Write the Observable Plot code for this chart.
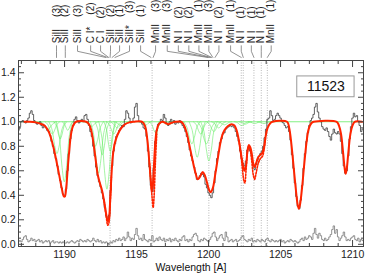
<!DOCTYPE html>
<html><head><meta charset="utf-8">
<script src="https://cdn.jsdelivr.net/npm/d3@7"></script>
<script src="https://cdn.jsdelivr.net/npm/@observablehq/plot@0.6"></script>
<style>body{margin:0;background:#fff}</style>
</head><body><div id="chart"></div>
<script>
// ---- data ----
const waveStart = 1186.8, waveStep = 0.1;
const fluxObs = [
0.93,0.96,1.00,1.01,1.00,0.99,1.01,1.03,1.07,1.09,
1.06,1.01,0.99,0.98,0.99,1.00,0.97,0.95,0.97,0.95,
0.93,0.92,0.89,0.84,0.80,0.74,0.70,0.64,0.57,0.52,
0.46,0.41,0.39,0.45,0.60,0.74,0.86,0.93,0.97,1.02,
1.04,1.01,0.99,1.00,1.02,1.00,1.05,1.06,1.02,0.97,
0.92,0.88,0.80,0.72,0.63,0.56,0.51,0.47,0.42,0.37,
0.30,0.23,0.19,0.24,0.44,0.64,0.76,0.82,0.88,0.90,
0.93,0.95,0.97,0.96,1.02,1.09,1.07,1.03,0.99,1.00,
1.03,1.12,1.15,1.05,1.00,1.00,0.98,0.95,0.94,0.88,
0.76,0.63,0.48,0.43,0.62,0.84,0.93,0.98,0.99,1.02,
1.01,1.06,1.03,0.99,0.97,1.00,1.02,0.99,1.01,0.98,
1.00,0.99,1.01,0.99,0.97,0.95,0.92,0.88,0.83,0.77,
0.72,0.68,0.63,0.58,0.53,0.54,0.56,0.58,0.57,0.55,
0.49,0.46,0.42,0.40,0.38,0.42,0.50,0.60,0.70,0.76,
0.83,0.86,0.90,0.91,0.94,0.95,0.96,0.97,0.96,0.97,
0.95,0.92,0.88,0.84,0.76,0.70,0.66,0.64,0.68,0.77,
0.80,0.76,0.72,0.64,0.61,0.65,0.69,0.72,0.74,0.76,
0.80,0.87,0.94,1.02,1.03,1.09,1.05,1.01,1.02,1.05,
1.07,1.05,1.03,1.00,0.99,0.97,0.95,0.96,0.92,0.85,
0.73,0.62,0.50,0.39,0.31,0.29,0.36,0.48,0.62,0.74,
0.84,0.91,0.97,1.01,1.03,1.06,1.12,1.15,1.08,1.03,
1.00,0.96,0.94,0.93,0.95,0.92,0.88,0.85,0.90,0.94,
0.91,0.90,0.92,0.90,0.84,0.74,0.64,0.58,0.60,0.72,
0.86,0.96,1.03,1.07,1.04,1.05,1.00,0.97,0.92,0.94];
const fluxErr = [
0.02,0.03,0.02,0.04,0.06,0.07,0.04,0.02,0.03,0.05,
0.03,0.04,0.02,0.03,0.04,0.02,0.03,0.01,0.02,0.03,
0.02,0.03,0.01,0.02,0.03,0.01,0.02,0.02,0.01,0.02,
0.01,0.02,0.01,0.01,0.02,0.01,0.02,0.03,0.02,0.01,
0.02,0.03,0.02,0.04,0.03,0.02,0.03,0.02,0.04,0.03,
0.02,0.03,0.05,0.03,0.02,0.04,0.02,0.03,0.01,0.02,
0.01,0.02,0.01,0.00,0.02,0.01,0.03,0.02,0.04,0.03,
0.05,0.03,0.04,0.06,0.03,0.05,0.10,0.06,0.03,0.05,
0.04,0.08,0.13,0.07,0.04,0.05,0.03,0.08,0.04,0.03,
0.02,0.04,0.03,0.07,0.02,0.03,0.05,0.03,0.06,0.04,
0.03,0.05,0.02,0.04,0.03,0.05,0.02,0.04,0.03,0.05,
0.03,0.02,0.04,0.03,0.06,0.07,0.03,0.04,0.02,0.04,
0.03,0.06,0.08,0.09,0.07,0.03,0.02,0.04,0.03,0.05,
0.04,0.03,0.02,0.04,0.06,0.09,0.10,0.06,0.03,0.05,
0.07,0.08,0.05,0.03,0.10,0.06,0.02,0.03,0.04,0.02,
0.03,0.04,0.02,0.03,0.04,0.06,0.07,0.04,0.03,0.02,
0.04,0.03,0.05,0.02,0.03,0.02,0.04,0.03,0.02,0.04,
0.03,0.02,0.04,0.05,0.03,0.02,0.04,0.03,0.02,0.03,
0.02,0.03,0.04,0.02,0.03,0.01,0.02,0.03,0.02,0.04,
0.03,0.02,0.03,0.02,0.01,0.02,0.04,0.05,0.03,0.06,
0.04,0.05,0.07,0.06,0.04,0.09,0.13,0.08,0.05,0.09,
0.07,0.04,0.03,0.05,0.03,0.04,0.06,0.08,0.12,0.15,
0.09,0.12,0.06,0.03,0.05,0.07,0.10,0.06,0.03,0.04,
0.03,0.05,0.06,0.07,0.04,0.03,0.05,0.02,0.04,0.03];
const modelPts = [
[1187.2,1.00],[1187.6,1.00],[1188.0,0.995],[1188.3,0.985],[1188.6,0.97],[1188.85,0.93],[1189.05,0.87],[1189.25,0.78],[1189.45,0.67],[1189.65,0.55],[1189.8,0.46],[1189.95,0.39],[1190.02,0.39],[1190.12,0.47],[1190.22,0.62],[1190.33,0.77],[1190.45,0.9],[1190.6,0.97],[1190.8,1.0],[1191.5,1.0],
[1191.7,0.98],[1191.85,0.93],[1192.0,0.83],[1192.15,0.70],[1192.3,0.57],[1192.45,0.50],[1192.6,0.44],[1192.75,0.35],[1192.9,0.24],[1193.0,0.19],[1193.07,0.2],[1193.15,0.32],[1193.25,0.55],[1193.35,0.72],[1193.5,0.83],[1193.7,0.9],[1193.95,0.95],[1194.2,0.98],[1194.5,0.995],[1194.8,1.0],[1195.4,1.0],
[1195.6,0.96],[1195.75,0.85],[1195.88,0.68],[1196.0,0.5],[1196.06,0.43],[1196.12,0.47],[1196.2,0.63],[1196.3,0.83],[1196.4,0.93],[1196.55,0.98],[1196.8,1.0],[1197.0,0.99],[1197.2,0.98],[1197.4,0.99],[1197.7,1.0],[1198.1,1.0],
[1198.3,0.97],[1198.5,0.9],[1198.7,0.79],[1198.9,0.68],[1199.1,0.58],[1199.25,0.53],[1199.4,0.55],[1199.6,0.59],[1199.75,0.56],[1199.9,0.5],[1200.05,0.44],[1200.15,0.425],[1200.3,0.46],[1200.45,0.56],[1200.6,0.67],[1200.75,0.78],[1200.9,0.87],[1201.1,0.93],[1201.35,0.965],[1201.6,0.98],
[1201.8,0.97],[1201.95,0.93],[1202.1,0.85],[1202.25,0.74],[1202.4,0.64],[1202.5,0.6],[1202.6,0.64],[1202.7,0.76],[1202.8,0.81],[1202.9,0.79],[1203.0,0.74],[1203.1,0.66],[1203.2,0.63],[1203.3,0.66],[1203.45,0.71],[1203.6,0.73],[1203.75,0.75],[1203.85,0.79],[1203.95,0.87],[1204.1,0.95],[1204.3,0.99],[1204.45,1.0],[1205.45,1.0],
[1205.6,0.95],[1205.75,0.82],[1205.9,0.64],[1206.05,0.46],[1206.18,0.33],[1206.27,0.29],[1206.36,0.33],[1206.5,0.47],[1206.65,0.66],[1206.8,0.83],[1206.95,0.94],[1207.15,0.99],[1207.3,1.0],[1208.9,1.0],
[1209.05,0.97],[1209.2,0.9],[1209.35,0.74],[1209.45,0.62],[1209.52,0.575],[1209.6,0.62],[1209.7,0.74],[1209.85,0.9],[1210.0,0.97],[1210.15,1.0],[1210.65,1.0]];
const modelDotA = [[1192.75,0.35],[1192.9,0.22],[1193.0,0.155],[1193.07,0.17],[1193.15,0.3],[1193.25,0.55]];
const modelDotB = [[1195.9,0.66],[1196.0,0.5],[1196.08,0.38],[1196.15,0.30],[1196.22,0.4],[1196.3,0.65],[1196.4,0.9]];
const modelDotC = [[1202.1,0.85],[1202.2,0.78],[1202.35,0.62],[1202.45,0.52],[1202.52,0.5],[1202.6,0.6],[1202.7,0.75],[1202.8,0.8],[1202.9,0.77],[1203.0,0.68],[1203.1,0.57],[1203.2,0.53],[1203.3,0.58],[1203.45,0.66],[1203.6,0.7],[1203.75,0.72],[1203.85,0.77],[1203.95,0.86]];
const greenComps = [
[[1188.29,1],[1188.51,0.985],[1188.68,0.957],[1188.85,0.94],[1189.02,0.957],[1189.19,0.985],[1189.41,1]],
[[1188.65,1],[1188.85,0.975],[1189.0,0.928],[1189.15,0.90],[1189.3,0.928],[1189.45,0.975],[1189.65,1]],
[[1188.91,1],[1189.13,0.935],[1189.3,0.813],[1189.47,0.74],[1189.64,0.813],[1189.81,0.935],[1190.03,1]],
[[1189.26,1],[1189.44,0.965],[1189.57,0.899],[1189.7,0.86],[1189.83,0.899],[1189.96,0.965],[1190.14,1]],
[[1189.42,1],[1189.64,0.878],[1189.81,0.647],[1189.98,0.51],[1190.15,0.647],[1190.32,0.878],[1190.54,1]],
[[1189.84,1],[1189.99,0.983],[1190.11,0.95],[1190.22,0.93],[1190.33,0.95],[1190.45,0.983],[1190.6,1]],
[[1191.35,1],[1191.55,0.99],[1191.7,0.971],[1191.85,0.96],[1192.0,0.971],[1192.15,0.99],[1192.35,1]],
[[1191.57,1],[1191.79,0.95],[1191.96,0.856],[1192.13,0.80],[1192.3,0.856],[1192.47,0.95],[1192.69,1]],
[[1191.8,1],[1192.02,0.895],[1192.19,0.698],[1192.36,0.58],[1192.53,0.698],[1192.7,0.895],[1192.92,1]],
[[1192.12,1],[1192.32,0.933],[1192.47,0.806],[1192.62,0.73],[1192.77,0.806],[1192.92,0.933],[1193.12,1]],
[[1192.38,1],[1192.6,0.863],[1192.77,0.604],[1192.94,0.45],[1193.11,0.604],[1193.28,0.863],[1193.5,1]],
[[1192.73,1],[1192.91,0.94],[1193.04,0.827],[1193.17,0.76],[1193.3,0.827],[1193.43,0.94],[1193.61,1]],
[[1192.92,1],[1193.12,0.975],[1193.27,0.928],[1193.42,0.90],[1193.57,0.928],[1193.72,0.975],[1193.92,1]],
[[1193.15,1],[1193.35,0.988],[1193.5,0.964],[1193.65,0.95],[1193.8,0.964],[1193.95,0.988],[1194.15,1]],
[[1193.39,1],[1193.61,0.993],[1193.78,0.978],[1193.95,0.97],[1194.12,0.978],[1194.29,0.993],[1194.51,1]],
[[1195.16,1],[1195.34,0.993],[1195.47,0.978],[1195.6,0.97],[1195.73,0.978],[1195.86,0.993],[1196.04,1]],
[[1195.56,1],[1195.76,0.86],[1195.91,0.597],[1196.06,0.44],[1196.21,0.597],[1196.36,0.86],[1196.56,1]],
[[1195.88,1],[1196.06,0.978],[1196.19,0.935],[1196.32,0.91],[1196.45,0.935],[1196.58,0.978],[1196.76,1]],
[[1196.64,1],[1196.86,0.994],[1197.03,0.982],[1197.2,0.975],[1197.37,0.982],[1197.54,0.994],[1197.76,1]],
[[1198.28,1],[1198.5,0.955],[1198.67,0.87],[1198.84,0.82],[1199.01,0.87],[1199.18,0.955],[1199.4,1]],
[[1198.65,1],[1198.87,0.928],[1199.04,0.791],[1199.21,0.71],[1199.38,0.791],[1199.55,0.928],[1199.77,1]],
[[1198.95,1],[1199.15,0.975],[1199.3,0.928],[1199.45,0.90],[1199.6,0.928],[1199.75,0.975],[1199.95,1]],
[[1199.46,1],[1199.68,0.92],[1199.85,0.77],[1200.02,0.68],[1200.19,0.77],[1200.36,0.92],[1200.58,1]],
[[1199.23,1],[1199.48,0.955],[1199.66,0.87],[1199.85,0.82],[1200.04,0.87],[1200.22,0.955],[1200.47,1]],
[[1199.87,1],[1200.07,0.98],[1200.22,0.942],[1200.37,0.92],[1200.52,0.942],[1200.67,0.98],[1200.87,1]],
[[1200.2,1],[1200.4,0.988],[1200.55,0.964],[1200.7,0.95],[1200.85,0.964],[1201.0,0.988],[1201.2,1]],
[[1200.6,1],[1200.8,0.994],[1200.95,0.982],[1201.1,0.975],[1201.25,0.982],[1201.4,0.994],[1201.6,1]],
[[1201.8,1],[1202.0,0.993],[1202.15,0.978],[1202.3,0.97],[1202.45,0.978],[1202.6,0.993],[1202.8,1]],
[[1202.11,1],[1202.29,0.995],[1202.42,0.986],[1202.55,0.98],[1202.68,0.986],[1202.81,0.995],[1202.99,1]],
[[1202.76,1],[1202.94,0.996],[1203.07,0.989],[1203.2,0.985],[1203.33,0.989],[1203.46,0.996],[1203.64,1]],
[[1203.41,1],[1203.59,0.996],[1203.72,0.989],[1203.85,0.985],[1203.98,0.989],[1204.11,0.996],[1204.29,1]]];
const markW = [1193.16, 1196.08, 1200.02, 1202.27, 1202.41, 1203.15, 1203.66, 1204.08];
const labelNames = ["SiII (3)","SiII (2)","SiII (3)","C I* (2)","C I (2)","SiII (2)","SiII (1)","SiII* (3)","SiII (1)","MnII (3)","MnII (3)","N I (2)","N I (2)","MnII (1)","MnII (3)","N I (2)","MnII (1)","N I (1)","N I (1)","N I (1)","MnII (1)"];
const labelW = [1189.44,1190.05,1190.9,1191.81,1192.5,1193.19,1193.82,1194.51,1195.28,1196.32,1197.13,1197.9,1198.63,1199.33,1200.02,1200.72,1201.53,1202.27,1202.97,1203.66,1204.35];
const lineW = [1189.44,1190.05,1192.85,1192.97,1193.06,1193.16,1193.3,1193.5,1196.0,1196.15,1199.95,1200.05,1200.15,1200.22,1200.3,1200.45,1202.27,1202.41,1203.15,1203.66,1204.08];
const xMajor = [1190, 1195, 1200, 1205, 1210];
const xMinor = [1187,1188,1189,1191,1192,1193,1194,1196,1197,1198,1199,1201,1202,1203,1204,1206,1207,1208,1209];
const yMajor = [0, 0.2, 0.4, 0.6, 0.8, 1.0, 1.2, 1.4];
const yMinor = [0.05,0.1,0.15,0.25,0.3,0.35,0.45,0.5,0.55,0.65,0.7,0.75,0.85,0.9,0.95,1.05,1.1,1.15,1.25,1.3,1.35,1.45];
const boxLabel = "11523";

// ---- tables ----
const obs = fluxObs.map((f, i) => ({w: waveStart + i * waveStep, f}));
const err = fluxErr.map((f, i) => ({w: waveStart + i * waveStep, f}));
const model = modelPts.map(([w, f]) => ({w, f}));
const dots = [modelDotA, modelDotB, modelDotC].flatMap((s, k) => s.map(([w, f]) => ({w, f, k})));
const greens = greenComps.flatMap((s, k) => s.map(([w, f]) => ({w, f, k})));
const labels = labelNames.map((t, i) => ({t: t.replace(/ \(/, "\u2003\u2009("), w: labelW[i], y: 1.64}));
const conns = labelW.flatMap((w, i) => [
  {k: i, w, y: 1.62}, {k: i, w, y: 1.575}, {k: i, w: lineW[i], y: 1.525}]);
const box = [{x1: 1206.16, x2: 1210.14, y1: 1.20, y2: 1.37, xc: 1208.15, yc: 1.285}];

const RED = "#ff2400", GREEN = "#66ec66";
const F = "Liberation Sans, Arial, Helvetica, sans-serif";

const chart = Plot.plot({
  width: 365, height: 275,
  marginLeft: 18, marginRight: 2, marginTop: 60, marginBottom: 29,
  style: {fontFamily: F, fontSize: "10.5px", color: "#222", background: "#fff", overflow: "visible"},
  x: {domain: [1186.8, 1210.76]},
  y: {domain: [-0.018, 1.5]},
  marks: [
    Plot.ruleX(markW, {stroke: "#999", strokeWidth: 0.7, strokeDasharray: "1,1.5"}),
    Plot.ruleY([1], {stroke: GREEN, strokeWidth: 0.8}),
    Plot.line(greens, {x: "w", y: "f", z: "k", stroke: GREEN, strokeWidth: 0.6, curve: "catmull-rom", clip: true}),
    Plot.line(err, {x: "w", y: "f", stroke: "#777", strokeWidth: 0.8, curve: "step", clip: true}),
    Plot.line(obs, {x: "w", y: "f", stroke: "#3a3a3a", strokeWidth: 0.8, curve: "step", clip: true}),
    Plot.line(dots, {x: "w", y: "f", z: "k", stroke: RED, strokeWidth: 1.6, strokeDasharray: "1.5,1.5", curve: "catmull-rom", clip: true}),
    Plot.line(model, {x: "w", y: "f", stroke: RED, strokeWidth: 2, curve: "catmull-rom", clip: true}),
    Plot.rect(box, {x1: "x1", x2: "x2", y1: "y1", y2: "y2", fill: "#fff", stroke: "#999", strokeWidth: 1}),
    Plot.text(box, {x: "xc", y: "yc", text: () => boxLabel, fontSize: 14, fill: "#111"}),
    Plot.frame({stroke: "#444", strokeWidth: 1}),
    // x axes
    Plot.axisX({anchor: "bottom", ticks: xMajor, tickSize: 0, tickPadding: 4, tickFormat: d => String(d), label: null, fontSize: 10.5}),
    Plot.axisX({anchor: "bottom", ticks: xMajor, tickSize: -6, fill: "none", stroke: "#444", label: null}),
    Plot.axisX({anchor: "bottom", ticks: xMinor, tickSize: -3, fill: "none", stroke: "#444", label: null}),
    Plot.axisX({anchor: "top", ticks: xMajor, tickSize: -6, fill: "none", stroke: "#444", label: null}),
    Plot.axisX({anchor: "top", ticks: xMinor, tickSize: -3, fill: "none", stroke: "#444", label: null}),
    // y axes
    Plot.axisY({anchor: "left", ticks: yMajor, tickSize: 0, tickPadding: 3, tickFormat: d3.format(".1f"), label: null, fontSize: 10.5}),
    Plot.axisY({anchor: "left", ticks: yMajor, tickSize: -6, fill: "none", stroke: "#444", label: null}),
    Plot.axisY({anchor: "left", ticks: yMinor, tickSize: -3, fill: "none", stroke: "#444", label: null}),
    Plot.axisY({anchor: "right", ticks: yMajor, tickSize: -6, fill: "none", stroke: "#444", label: null}),
    Plot.axisY({anchor: "right", ticks: yMinor, tickSize: -3, fill: "none", stroke: "#444", label: null}),
    Plot.text(["Wavelength [A]"], {frameAnchor: "bottom", dy: 21, lineAnchor: "middle", fontSize: 10.5, fill: "#111"}),
    // line labels
    Plot.line(conns, {x: "w", y: "y", z: "k", stroke: "#777", strokeWidth: 0.8}),
    Plot.text(labels, {x: "w", y: "y", text: "t", rotate: -90, textAnchor: "start", lineAnchor: "middle", fontSize: 10, fill: "#222"})
  ]
});
document.getElementById("chart").appendChild(chart);
</script>
</body></html>
